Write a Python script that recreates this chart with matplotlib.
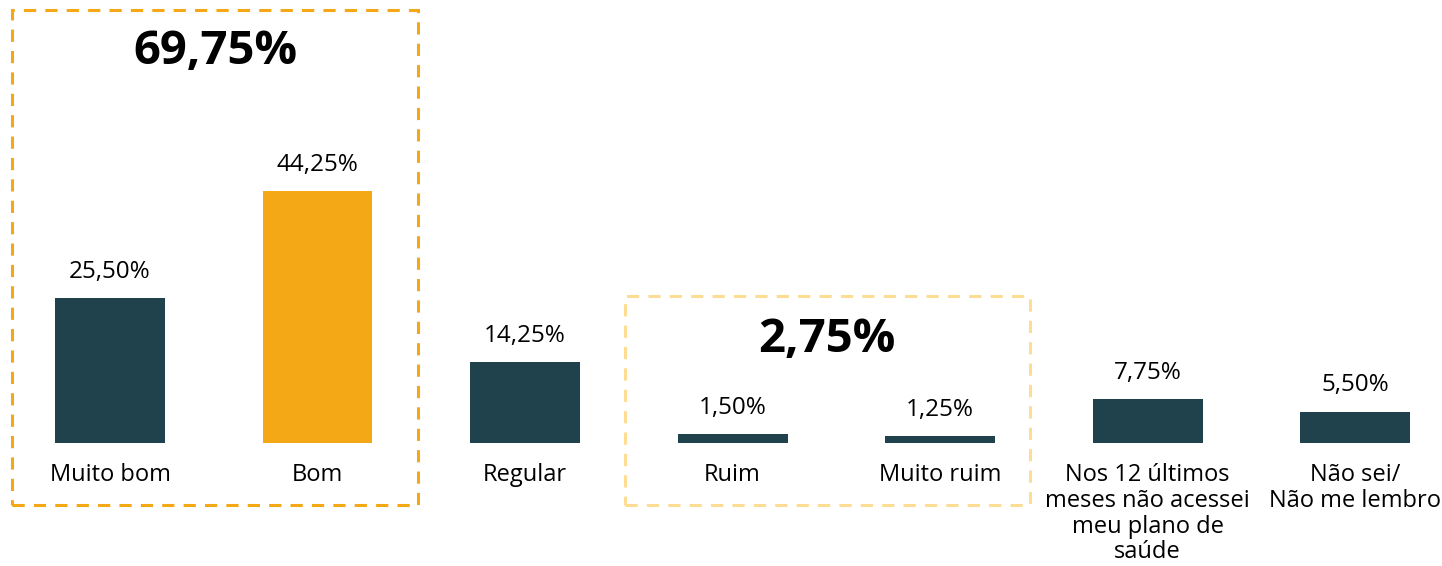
import matplotlib.pyplot as plt
from matplotlib.patches import Rectangle

# dados
categorias = ['Muito bom', 'Bom', 'Regular', 'Ruim', 'Muito ruim',
              'Nos 12 últimos\nmeses não acessei\nmeu plano de\nsaúde',
              'Não sei/\nNão me lembro']
valores = [25.50, 44.25, 14.25, 1.50, 1.25, 7.75, 5.50]
rotulos = ['25,50%', '44,25%', '14,25%', '1,50%', '1,25%', '7,75%', '5,50%']
grupos = [(0, 1, '69,75%'), (3, 4, '2,75%')]

azul = '#1F424C'
laranja = '#F5A816'
cores = [azul, laranja, azul, azul, azul, azul, azul]

plt.rcParams['font.family'] = ['Open Sans', 'DejaVu Sans']

fig = plt.figure(figsize=(14.42, 5.66), dpi=100)
ax = fig.add_axes([0, 0, 1, 1])
ax.set_xlim(-0.530, 6.419)
ax.set_ylim(-21.6, 77.8)
ax.axis('off')

x = range(len(valores))
ax.bar(x, valores, width=0.53, color=cores)

for i, v in enumerate(valores):
    ax.text(i, v + 4.6, rotulos[i], ha='center', va='center', fontsize=17.5)
    ax.text(i, -3.5, categorias[i], ha='center', va='top', fontsize=17,
            linespacing=1.1)

# caixas tracejadas
ax.add_patch(Rectangle((-0.472, -10.9), 1.956, 86.9, fill=False,
                       edgecolor=laranja, lw=2.2, ls=(0, (4, 3)), clip_on=False))
ax.add_patch(Rectangle((2.482, -10.9), 1.952, 36.7, fill=False,
                       edgecolor='#FDDC94', lw=2.2, ls=(0, (4, 3)), clip_on=False))

ax.text(0.506, 68.7, grupos[0][2], ha='center', va='center', fontsize=34,
        fontweight='bold')
ax.text(3.455, 18.1, grupos[1][2], ha='center', va='center', fontsize=34,
        fontweight='bold')

plt.savefig('out.png', dpi=100)
